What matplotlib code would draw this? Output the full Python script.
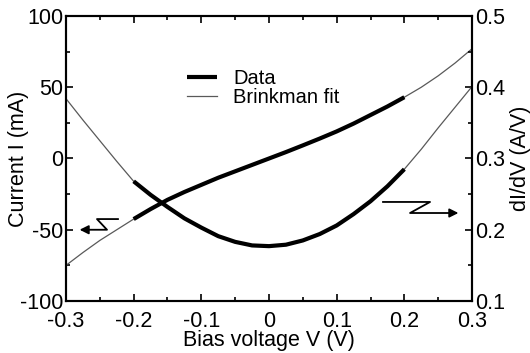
import numpy as np
import matplotlib
matplotlib.use("Agg")
import matplotlib.pyplot as plt
from matplotlib.ticker import MultipleLocator

plt.rcParams['font.family'] = ['Liberation Sans', 'DejaVu Sans']

# bias voltage (V), every 25 mV
V = [-0.300, -0.275, -0.250, -0.225, -0.200, -0.175, -0.150, -0.125, -0.100,
     -0.075, -0.050, -0.025, 0.000, 0.025, 0.050, 0.075, 0.100, 0.125,
     0.150, 0.175, 0.200, 0.225, 0.250, 0.275, 0.300]

# current I (mA)
I_mA = [-75, -66, -57.5, -50, -42.5, -35.5, -29, -23.5, -18.5,
        -13.5, -9, -4.5, 0, 4.5, 9.2, 14, 19, 24.5,
        30.5, 36.5, 43, 50, 58, 67, 77]

# conductance dI/dV (A/V)
G = [0.384, 0.354, 0.325, 0.296, 0.268, 0.249, 0.232, 0.216, 0.203,
     0.191, 0.183, 0.178, 0.177, 0.179, 0.185, 0.194, 0.206, 0.222,
     0.240, 0.261, 0.285, 0.313, 0.343, 0.372, 0.401]

V = np.array(V)
I_mA = np.array(I_mA)
G = np.array(G)
meas = (V >= -0.2001) & (V <= 0.2001)   # measured range

fig = plt.figure(figsize=(5.30, 3.53), dpi=100)
ax = fig.add_axes([0.1245, 0.1473, 0.7661, 0.8074])
ax2 = ax.twinx()

fit_kw = dict(color='0.35', lw=0.9)
dat_kw = dict(color='black', lw=3.0, solid_capstyle='butt')

ax.plot(V, I_mA, **fit_kw)
ax.plot(V[meas], I_mA[meas], **dat_kw)
ax2.plot(V, G, **fit_kw)
ax2.plot(V[meas], G[meas], **dat_kw)

ax.set_xlim(-0.3, 0.3)
ax.set_ylim(-100, 100)
ax2.set_ylim(0.1, 0.5)

ax.xaxis.set_minor_locator(MultipleLocator(0.05))
ax.yaxis.set_minor_locator(MultipleLocator(25))
ax2.yaxis.set_minor_locator(MultipleLocator(0.05))

ax.set_xticks([-0.3, -0.2, -0.1, 0, 0.1, 0.2, 0.3])
ax.set_xticklabels(['-0.3', '-0.2', '-0.1', '0', '0.1', '0.2', '0.3'])
ax.set_yticks([-100, -50, 0, 50, 100])
ax.set_yticklabels(['-100', '-50', '0', '50', '100'])
ax2.set_yticks([0.1, 0.2, 0.3, 0.4, 0.5])
ax2.set_yticklabels(['0.1', '0.2', '0.3', '0.4', '0.5'])

fs = 15.5
ax.tick_params(axis='x', which='both', direction='in', top=True, labelsize=fs, pad=7)
ax.tick_params(axis='y', which='both', direction='in', labelsize=fs, pad=2)
ax2.tick_params(axis='y', which='both', direction='in', labelsize=fs, pad=2)
for a in (ax, ax2):
    a.tick_params(which='major', length=5, width=1.2)
    a.tick_params(which='minor', length=3, width=1.2)
    for s in a.spines.values():
        s.set_linewidth(1.5)

ax.set_xlabel('Bias voltage V (V)', fontsize=fs)
ax.set_ylabel('Current I (mA)', fontsize=fs)
ax2.set_ylabel('dI/dV (A/V)', fontsize=fs)
ax.xaxis.set_label_coords(0.5, -0.102)
ax.yaxis.set_label_coords(-0.092, 0.5)
ax2.yaxis.set_label_coords(1.094, 0.5)

# legend
h1, = ax.plot([], [], **dat_kw)
h2, = ax.plot([], [], **fit_kw)
ax.legend([h1, h2], ['Data', 'Brinkman fit'], loc='center left',
          bbox_to_anchor=(0.298, 0.747), frameon=False, fontsize=14.5,
          handlelength=1.5, handletextpad=0.8, labelspacing=0.0,
          borderaxespad=0, borderpad=0)

# zig-zag arrows pointing to the axes
ax.plot([-0.2232, -0.2542, -0.2394, -0.272], [-42.5, -42.5, -50, -50],
        color='black', lw=1.3)
ax.annotate('', xy=(-0.284, -50), xytext=(-0.268, -50),
            arrowprops=dict(arrowstyle='-|>', color='black', lw=1.3,
                            mutation_scale=13))
ax2.plot([0.1685, 0.238, 0.2084, 0.272], [0.239, 0.239, 0.2235, 0.2235],
         color='black', lw=1.3)
ax2.annotate('', xy=(0.284, 0.2235), xytext=(0.268, 0.2235),
             arrowprops=dict(arrowstyle='-|>', color='black', lw=1.3,
                             mutation_scale=13))

fig.savefig('out.png', dpi=100)
